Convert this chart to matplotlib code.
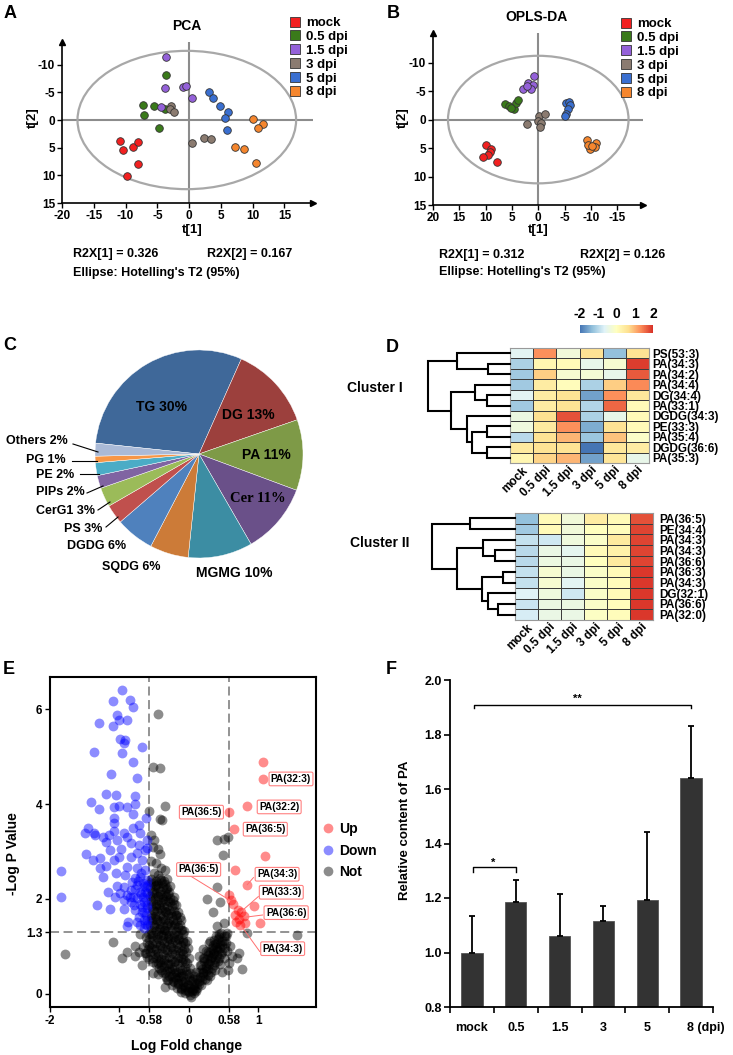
import numpy as np
import matplotlib
matplotlib.use("Agg")
import matplotlib.pyplot as plt
from matplotlib.patches import Ellipse
from matplotlib.lines import Line2D
from matplotlib.colors import LinearSegmentedColormap
from matplotlib.transforms import ScaledTranslation

plt.rcParams['font.family'] = ['Liberation Sans', 'DejaVu Sans']
plt.rcParams['font.weight'] = 'bold'
plt.rcParams['axes.labelweight'] = 'bold'
plt.rcParams['axes.unicode_minus'] = False

W, H = 733, 1055

# ---------------- data ----------------
GROUPS = ["mock", "0.5 dpi", "1.5 dpi", "3 dpi", "5 dpi", "8 dpi"]
GCOLORS = ["#F22020", "#3A7A1A", "#9461D9", "#8B7B70", "#3A6FD0", "#F5862E"]

PCA_T1 = [[-10.9, -10.4, -8.75, -8.0, -8.0, -9.7],
          [-3.65, -7.2, -5.6, -7.1, -4.7, -3.75],
          [-3.6, -3.8, -0.9, -0.5, 0.5, -4.4],
          [-2.9, -3.0, -2.45, 0.5, 2.35, 3.5],
          [3.2, 3.7, 4.9, 6.1, 5.7, 6.0],
          [10.0, 11.6, 10.8, 7.3, 8.6, 10.6]]
PCA_T2 = [[3.75, 5.4, 4.9, 3.9, 7.9, 10.1],
          [-8.2, -2.7, -2.5, -0.9, 1.4, -2.0],
          [-11.4, -5.7, -6.0, -6.1, -3.9, -2.3],
          [-2.6, -2.0, -1.4, 4.2, 3.2, 3.4],
          [-5.0, -4.0, -2.6, -1.5, -0.4, 1.8],
          [-0.2, 0.8, 1.5, 4.9, 5.2, 7.7]]

OPLS_T1 = [[9.9, 9.0, 9.15, 9.6, 10.5, 7.9],
           [6.3, 5.5, 4.6, 4.3, 3.85, 5.2],
           [0.8, 1.9, 0.95, 2.85, 1.4, 2.2],
           [-0.1, 0.05, -1.3, -0.55, 2.2, -0.4],
           [-5.2, -5.9, -6.1, -5.7, -5.3, -5.0],
           [-9.3, -10.9, -10.85, -9.8, -9.5, -10.2]]
OPLS_T2 = [[4.4, 5.1, 5.7, 6.3, 6.6, 7.5],
           [-2.7, -2.35, -1.8, -2.9, -3.5, -2.1],
           [-7.6, -6.4, -6.0, -5.4, -5.3, -5.9],
           [-0.6, 0.2, -1.0, 0.6, 0.8, 1.35],
           [-2.9, -3.0, -2.5, -1.9, -1.06, -0.7],
           [3.6, 4.1, 4.8, 5.1, 4.5, 4.6]]

PIE_LABELS = ["TG", "DG", "PA", "Cer", "MGMG", "SQDG", "DGDG", "PS", "CerG1",
              "PIPs", "PE", "PG", "Others"]
PIE_VALUES = [30, 13, 11, 11, 10, 6, 6, 3, 3, 2, 2, 1, 2]
PIE_COLORS = ["#3F6899", "#9C403D", "#7E9A47", "#6A5089", "#3C8DA3", "#CC7B38",
              "#4F81BD", "#C0504D", "#9BBB59", "#8064A2", "#4BACC6", "#F79646",
              "#AABAD7"]

HM_COLS = ["mock", "0.5 dpi", "1.5 dpi", "3 dpi", "5 dpi", "8 dpi"]
C1_ROWS = ["PS(53:3)", "PA(34:3)", "PA(34:2)", "PA(34:4)", "DG(34:4)", "PA(33:1)",
           "DGDG(34:3)", "PE(33:3)", "PA(35:4)", "DGDG(36:6)", "PA(35:3)"]
C1_VALS = [[-0.6, 1.3, -0.3, 0.6, -1.3, 0.6],
           [-1.1, 0.2, 0.1, -0.5, -0.2, 1.9],
           [-1.2, 0.8, -0.2, -0.25, -0.5, 1.7],
           [-1.2, 0.4, 0.05, -1.1, 0.8, 1.35],
           [-0.6, 0.4, 0.6, -1.6, 1.3, 0.5],
           [-1.2, 0.4, 0.6, -1.05, 1.6, 0.1],
           [-0.4, 0.65, 1.75, -1.1, -0.5, 0.1],
           [-0.35, 0.45, 1.3, -1.5, 0.6, 0.1],
           [-1.0, 0.6, 1.0, -1.25, 0.9, -0.1],
           [0.45, 0.6, 0.6, -2.0, 0.5, 0.4],
           [0.2, 0.75, 1.0, -1.6, 0.55, -0.5]]
C2_ROWS = ["PA(36:5)", "PE(34:4)", "PA(34:3)", "PA(34:3)", "PA(36:6)", "PA(36:3)",
           "PA(34:3)", "DG(32:1)", "PA(36:6)", "PA(32:0)"]
C2_VALS = [[-1.3, 0.1, -0.3, 0.4, 0.1, 1.75],
           [-1.2, 0.1, -0.3, 0.0, 0.05, 1.85],
           [-0.9, -0.8, -0.35, -0.1, 0.45, 1.85],
           [-1.0, -0.45, -0.55, 0.1, 0.3, 1.85],
           [-1.0, -0.4, -0.45, 0.0, 0.45, 1.85],
           [-0.9, -0.2, -0.45, -0.1, 0.1, 1.95],
           [-0.9, -0.2, -0.6, -0.1, 0.05, 1.95],
           [-0.65, -0.35, -0.8, -0.1, 0.1, 1.95],
           [-0.85, -0.4, -0.4, -0.1, 0.05, 1.95],
           [-0.75, -0.45, -0.45, -0.05, 0.05, 1.95]]
# dendrograms: (height, left, right), leaves = row index
C1_TREE = (82, (53, 0, (22, 1, 2)),
           (59, (35, 3, (23, 4, 5)), (43, 6, (38, (23, 7, 8), (23, 9, 10)))))
C2_TREE = (83, (45, 0, 1),
           (58, (32, 2, (20, 3, 4)), (33, (12, 5, 6), (27, 7, (17, 8, 9)))))

UP = [(1.07, 4.88), (1.07, 4.53), (0.84, 3.96), (0.58, 3.83), (0.65, 3.47), (1.10, 2.91),
      (0.66, 2.62), (0.83, 2.29), (0.58, 2.08), (0.61, 1.98), (0.70, 1.77), (0.67, 1.66),
      (0.75, 1.72), (0.80, 1.63), (0.94, 1.86), (1.03, 1.50), (0.68, 1.52), (0.73, 1.45),
      (0.81, 1.49), (0.64, 1.90), (0.72, 1.58)]
DOWN = [(-0.96, 6.41), (-1.10, 6.18), (-0.85, 6.19), (-0.81, 6.05), (-1.29, 5.72), (-1.04, 5.87),
        (-1.00, 5.77), (-0.89, 5.77), (-1.09, 5.64), (-0.99, 5.38), (-0.92, 5.36), (-0.93, 5.29),
        (-1.36, 5.10), (-0.96, 5.07), (-0.68, 5.21), (-0.81, 4.89), (-1.12, 4.63), (-0.75, 4.55),
        (-1.19, 4.21), (-1.05, 4.19), (-0.77, 4.17), (-1.41, 4.04), (-1.30, 3.89), (-1.08, 3.94),
        (-1.00, 3.96), (-0.89, 3.93), (-0.78, 4.00), (-0.81, 3.80), (-1.08, 3.70), (-1.08, 3.61),
        (-1.50, 3.38), (-1.45, 3.49), (-1.37, 3.40), (-1.35, 3.35), (-1.24, 3.30), (-1.20, 3.21),
        (-1.08, 3.44), (-0.94, 3.38), (-0.89, 3.31), (-0.81, 3.49), (-0.84, 3.17), (-1.04, 3.24),
        (-0.70, 3.38), (-0.60, 3.07), (-0.60, 3.24), (-1.48, 2.95), (-1.38, 2.82), (-1.28, 2.86),
        (-1.28, 2.65), (-1.13, 3.03), (-1.08, 2.82), (-1.01, 2.89), (-0.84, 2.89), (-0.75, 2.96),
        (-1.24, 2.46), (-1.05, 2.55), (-0.92, 2.51), (-0.89, 2.68), (-0.75, 2.65), (-0.70, 2.47),
        (-0.63, 2.61), (-0.60, 2.40), (-0.82, 2.36), (-1.04, 2.27), (-0.94, 2.25), (-0.84, 2.19),
        (-0.75, 2.29), (-0.65, 2.27), (-1.16, 2.14), (-1.06, 2.05), (-0.99, 2.12), (-0.89, 2.08),
        (-0.80, 2.05), (-0.70, 2.15), (-0.60, 2.12), (-0.94, 1.98), (-0.84, 1.94), (-0.75, 2.01),
        (-0.65, 1.94), (-1.33, 1.87), (-1.13, 1.79), (-0.94, 1.78), (-0.77, 1.77), (-0.68, 1.73),
        (-0.60, 1.80), (-0.87, 1.52), (-0.75, 1.52), (-0.65, 1.56), (-0.60, 1.45), (-0.89, 1.42),
        (-0.65, 1.38), (-1.84, 2.58), (-1.84, 2.04), (-0.68, 2.82), (-0.72, 3.14), (-0.63, 3.03),
        (-0.62, 1.65), (-0.70, 1.90), (-0.66, 2.05), (-0.78, 2.20), (-0.62, 2.25), (-0.73, 2.38),
        (-1.20, 2.70), (-1.15, 3.35), (-0.98, 3.05), (-0.72, 3.55), (-0.62, 3.70),
        (-0.61, 1.55), (-0.64, 1.72), (-0.61, 1.88), (-0.67, 1.83), (-0.62, 2.00), (-0.69, 2.10),
        (-0.63, 2.15), (-0.66, 2.33), (-0.61, 2.30), (-0.69, 2.55), (-0.72, 1.62), (-0.79, 1.87),
        (-0.71, 1.45), (-0.63, 1.48), (-0.77, 2.45), (-0.85, 2.05)]
NOT = [(-0.44, 5.90), (-0.51, 4.79), (-0.41, 4.77), (-0.57, 3.86), (-0.35, 3.96), (-0.39, 3.66),
       (-0.41, 3.68), (0.49, 2.93), (0.41, 3.24), (0.50, 3.26), (0.57, 3.30), (1.55, 1.23),
       (-1.79, 0.83), (-1.10, 1.10), (-0.96, 0.75), (-0.89, 0.89), (-0.77, 0.79), (-0.68, 0.61),
       (0.76, 0.52), (0.69, 0.76), (0.72, 0.86), (0.83, 1.29), (0.59, 1.00), (0.26, 1.99),
       (0.40, 2.26), (0.45, 1.94), (0.35, 1.73), (0.40, 1.42), (0.50, 1.49), (0.55, 1.28),
       (-0.52, 0.44), (-0.34, 0.15),
       (-0.55, 3.35), (-0.50, 3.25), (-0.45, 3.05), (-0.52, 3.10), (-0.42, 2.95),
       (-0.55, 2.80), (-0.48, 2.75), (-0.40, 2.65), (-0.50, 2.55), (-0.35, 2.60), (-0.45, 2.50),
       (-0.55, 2.35), (-0.47, 2.30), (-0.40, 2.40), (-0.33, 2.20), (-0.28, 2.15), (-0.50, 2.15),
       (-0.42, 2.10), (-0.55, 1.95), (-0.47, 1.90), (-0.38, 2.00), (-0.30, 1.95), (-0.22, 1.90),
       (-0.50, 1.75), (-0.42, 1.80), (-0.34, 1.75), (-0.26, 1.70), (-0.18, 1.65), (-0.55, 1.60),
       (-0.46, 1.55), (-0.38, 1.58), (-0.30, 1.50), (-0.22, 1.45), (-0.15, 1.40), (-0.50, 1.40),
       (-0.42, 1.38), (-0.34, 1.35), (-0.10, 1.35), (-0.70, 1.25), (-0.62, 1.20), (-0.54, 1.25),
       (-0.46, 1.20), (-0.38, 1.22), (-0.30, 1.18), (-0.22, 1.20), (-0.14, 1.15), (-0.08, 1.10),
       (-0.78, 1.00), (-0.66, 0.98), (-0.58, 1.02), (-0.50, 0.95), (-0.42, 1.00), (-0.34, 0.95),
       (-0.26, 0.98), (-0.18, 0.92), (-0.10, 0.90), (-0.04, 0.88), (-0.72, 0.88), (-0.62, 0.86),
       (-0.60, 0.78), (-0.52, 0.75), (-0.44, 0.80), (-0.36, 0.72), (-0.28, 0.78), (-0.20, 0.70),
       (-0.12, 0.75), (-0.05, 0.68), (-0.48, 0.62), (-0.40, 0.60), (-0.30, 0.62), (-0.40, 0.50),
       (-0.32, 0.48), (-0.25, 0.52), (-0.18, 0.45), (-0.10, 0.50), (-0.03, 0.42), (-0.28, 0.38),
       (-0.20, 0.35), (-0.12, 0.38), (-0.45, 0.42), (-0.22, 0.25), (-0.15, 0.22), (-0.08, 0.25),
       (-0.02, 0.18), (-0.12, 0.12), (-0.05, 0.08), (0.00, 0.03), (0.04, 0.06), (-0.30, 0.28),
       (0.08, 0.12), (0.12, 0.22), (0.06, 0.30), (0.16, 0.35), (0.20, 0.45), (0.10, 0.45),
       (0.24, 0.55), (0.28, 0.65), (0.16, 0.60), (0.32, 0.75), (0.22, 0.75), (0.36, 0.85),
       (0.28, 0.88), (0.40, 0.95), (0.45, 1.05), (0.34, 1.02), (0.50, 1.12), (0.42, 1.15),
       (0.54, 1.22), (0.46, 1.28), (0.30, 1.12), (0.20, 0.95), (0.14, 0.80), (0.50, 0.75),
       (0.55, 0.90), (0.58, 0.65), (0.62, 0.80), (0.45, 0.62), (0.38, 0.50), (0.30, 0.38),
       (0.48, 0.45), (0.56, 0.50), (0.18, 0.18), (0.26, 0.28), (0.10, 0.05),
       # dense V core
       (-0.54, 2.42), (-0.47, 2.38), (-0.41, 2.44), (-0.36, 2.37), (-0.31, 2.41),
       (-0.56, 2.24), (-0.49, 2.27), (-0.44, 2.22), (-0.37, 2.26), (-0.32, 2.23), (-0.27, 2.28),
       (-0.56, 2.06), (-0.51, 2.03), (-0.45, 2.07), (-0.39, 2.04), (-0.33, 2.06), (-0.27, 2.02),
       (-0.21, 2.05), (-0.55, 1.86), (-0.48, 1.84), (-0.43, 1.87), (-0.36, 1.83), (-0.31, 1.86),
       (-0.24, 1.84), (-0.19, 1.87), (-0.54, 1.66), (-0.49, 1.64), (-0.42, 1.67), (-0.37, 1.63),
       (-0.30, 1.66), (-0.25, 1.64), (-0.18, 1.67), (-0.13, 1.62), (-0.56, 1.46), (-0.50, 1.44),
       (-0.43, 1.47), (-0.38, 1.43), (-0.32, 1.46), (-0.26, 1.44), (-0.20, 1.47), (-0.13, 1.45),
       (-0.57, 1.26), (-0.52, 1.23), (-0.45, 1.27), (-0.40, 1.24), (-0.33, 1.26), (-0.28, 1.23),
       (-0.21, 1.27), (-0.16, 1.24), (-0.09, 1.26), (-0.60, 1.06), (-0.53, 1.04), (-0.48, 1.07),
       (-0.41, 1.03), (-0.36, 1.06), (-0.29, 1.04), (-0.24, 1.08), (-0.17, 1.05), (-0.12, 1.03),
       (-0.06, 1.06), (-0.63, 0.85), (-0.56, 0.87), (-0.49, 0.84), (-0.44, 0.86), (-0.37, 0.83),
       (-0.32, 0.87), (-0.25, 0.85), (-0.20, 0.83), (-0.13, 0.86), (-0.08, 0.84), (-0.52, 0.66),
       (-0.45, 0.64), (-0.41, 0.67), (-0.34, 0.65), (-0.27, 0.63), (-0.22, 0.66), (-0.15, 0.64),
       (-0.10, 0.67), (-0.03, 0.64), (-0.39, 0.46), (-0.35, 0.44), (-0.27, 0.47), (-0.22, 0.43),
       (-0.15, 0.46), (-0.11, 0.44), (-0.04, 0.47), (0.02, 0.44), (-0.31, 0.29), (-0.23, 0.27),
       (-0.19, 0.30), (-0.11, 0.28), (-0.06, 0.26), (0.01, 0.29), (0.05, 0.27), (-0.17, 0.13),
       (-0.11, 0.11), (-0.05, 0.14), (0.01, 0.12), (0.06, 0.10), (0.12, 0.13), (-0.06, 0.01),
       (0.02, -0.02), (0.07, 0.02), (0.12, 0.31), (0.19, 0.28), (0.23, 0.32), (0.15, 0.46),
       (0.21, 0.44), (0.25, 0.47), (0.32, 0.45), (0.18, 0.61), (0.25, 0.59), (0.29, 0.62),
       (0.36, 0.60), (0.21, 0.76), (0.26, 0.74), (0.33, 0.77), (0.38, 0.73), (0.44, 0.76),
       (0.24, 0.91), (0.31, 0.89), (0.35, 0.92), (0.42, 0.90), (0.48, 0.88), (0.29, 1.06),
       (0.37, 1.04), (0.41, 1.07), (0.48, 1.03), (0.39, 1.21), (0.44, 1.19), (0.51, 1.22),
       (-0.52, 2.33), (-0.45, 2.31), (-0.39, 2.34), (-0.34, 2.31), (-0.53, 2.14), (-0.47, 2.12),
       (-0.41, 2.16), (-0.35, 2.13), (-0.30, 2.10), (-0.52, 1.95), (-0.45, 1.97), (-0.40, 1.94),
       (-0.34, 1.96), (-0.27, 1.93), (-0.23, 1.97), (-0.52, 1.76), (-0.46, 1.74), (-0.39, 1.77),
       (-0.33, 1.73), (-0.28, 1.76), (-0.21, 1.75), (-0.16, 1.73), (-0.53, 1.55), (-0.47, 1.57),
       (-0.41, 1.54), (-0.35, 1.56), (-0.29, 1.53), (-0.23, 1.56), (-0.17, 1.54), (-0.11, 1.56),
       (-0.55, 1.35), (-0.48, 1.33), (-0.43, 1.36), (-0.36, 1.34), (-0.31, 1.32), (-0.24, 1.35),
       (-0.19, 1.33), (-0.12, 1.34), (-0.07, 1.32), (-0.57, 1.15), (-0.51, 1.13), (-0.44, 1.16),
       (-0.39, 1.14), (-0.32, 1.12), (-0.27, 1.15), (-0.20, 1.13), (-0.15, 1.16), (-0.09, 1.14),
       (-0.03, 1.12), (-0.59, 0.95), (-0.54, 0.97), (-0.47, 0.94), (-0.39, 0.96), (-0.31, 0.93),
       (-0.23, 0.95), (-0.15, 0.97), (-0.07, 0.94), (-0.01, 0.96), (-0.57, 0.74), (-0.48, 0.76),
       (-0.40, 0.73), (-0.33, 0.76), (-0.24, 0.74), (-0.16, 0.76), (-0.08, 0.73), (0.00, 0.75),
       (-0.43, 0.55), (-0.36, 0.57), (-0.29, 0.54), (-0.21, 0.56), (-0.13, 0.55), (-0.06, 0.57),
       (0.01, 0.54), (-0.33, 0.36), (-0.25, 0.38), (-0.16, 0.36), (-0.08, 0.37), (0.00, 0.35),
       (0.08, 0.38), (-0.24, 0.19), (-0.16, 0.20), (-0.09, 0.18), (-0.01, 0.21), (0.08, 0.19),
       (0.14, 0.20), (-0.12, 0.04), (-0.02, 0.06), (0.09, 0.08), (0.03, -0.06), (0.15, 0.26),
       (0.21, 0.37), (0.27, 0.40), (0.19, 0.52), (0.27, 0.53), (0.33, 0.55), (0.22, 0.68),
       (0.30, 0.69), (0.37, 0.67), (0.42, 0.70), (0.27, 0.82), (0.34, 0.83), (0.40, 0.81),
       (0.46, 0.84), (0.33, 0.97), (0.39, 0.99), (0.45, 0.97), (0.51, 0.96), (0.36, 1.13),
       (0.47, 1.12), (0.53, 1.08), (0.43, 1.26)]
VOLC_LABELS = [("PA(32:3)", 1.47, 4.53), ("PA(32:2)", 1.30, 3.94), ("PA(36:5)", 0.18, 3.83),
               ("PA(36:5)", 1.10, 3.47), ("PA(36:5)", 0.14, 2.62), ("PA(34:3)", 1.27, 2.52),
               ("PA(33:3)", 1.33, 2.14), ("PA(36:6)", 1.40, 1.71), ("PA(34:3)", 1.35, 0.95)]
VOLC_LEADERS = [((-0.03, 0.58), (2.53, 1.98)), ((0.93, 0.84), (2.45, 2.30)),
                ((1.00, 0.75), (2.05, 1.73)), ((1.06, 0.79), (1.66, 1.61)),
                ((1.02, 0.75), (0.89, 1.44))]

F_CATS = ["mock", "0.5", "1.5", "3", "5", "8 (dpi)"]
F_VALS = [1.00, 1.187, 1.059, 1.117, 1.194, 1.64]
F_ERRS = [0.133, 0.079, 0.157, 0.055, 0.25, 0.19]


def box(l, t, r, b):
    return [l / W, 1 - b / H, (r - l) / W, (b - t) / H]


fig = plt.figure(figsize=(W / 100, H / 100), dpi=100)


def center_labels(ax, lab_x, lab_y):
    ax.xaxis.set_label_coords(*lab_x)
    ax.yaxis.set_label_coords(*lab_y)
    ax.xaxis.label.set_va("center")
    ax.yaxis.label.set_va("center")


# ---------------- A / B score plots ----------------
def score_plot(rect, t1, t2, xlim, ylim, ell, xticks, xticklabels, tpos, lab_x, lab_y):
    ax = fig.add_axes(rect)
    ax.axhline(0, color="#8c8c8c", lw=1.5, zorder=1)
    ax.axvline(0, color="#8c8c8c", lw=1.5, zorder=1)
    ax.add_patch(Ellipse(ell[0], ell[1], ell[2], fill=False, ec="#a8a8a8", lw=1.6, zorder=1))
    for xs, ys, c in zip(t1, t2, GCOLORS):
        ax.scatter(xs, ys, s=30, c=c, edgecolors="#333333", linewidths=0.6, zorder=3)
    ax.set_xlim(*xlim)
    ax.set_ylim(*ylim)
    for s in ("top", "right"):
        ax.spines[s].set_visible(False)
    for s in ("left", "bottom"):
        ax.spines[s].set_linewidth(1.2)
    ax.plot(0, 1, "^", ms=5, color="k", transform=ax.transAxes, clip_on=False)
    ax.plot(1, 0, ">", ms=5, color="k", transform=ax.transAxes, clip_on=False)
    ax.set_xticks(xticks)
    ax.set_xticklabels(xticklabels)
    ax.set_yticks([-10, -5, 0, 5, 10, 15])
    ax.tick_params(labelsize=8.5, length=3.5, width=1, pad=1.5)
    ax.set_xlabel("t[1]", fontsize=9.5)
    ax.set_ylabel("t[2]", fontsize=9.5)
    center_labels(ax, lab_x, lab_y)
    handles = [Line2D([], [], marker="s", ls="", ms=6.5, mfc=c, mec="#333333", mew=0.6)
               for c in GCOLORS]
    fig.legend(handles, GROUPS, loc="upper left", bbox_to_anchor=tpos, frameon=False,
               prop=dict(weight="bold", size=9.5), handlelength=0.8, handletextpad=0.4,
               labelspacing=0.12, borderpad=0, borderaxespad=0)
    return ax


axA = score_plot(box(62, 42, 313, 203), PCA_T1, PCA_T2, (-20, 19.5), (15, -14.1),
                 ((-0.36, 0), 34.4, 25.0), [-20, -15, -10, -5, 0, 5, 10, 15],
                 ["-20", "-15", "-10", "-5", "0", "5", "10", "15"],
                 (290 / W, 1 - 17 / H), (0.52, -0.165), (-0.116, 0.53))
axB = score_plot(box(433, 33, 643, 205), OPLS_T1, OPLS_T2, (20, -19.9), (15, -15.2),
                 ((0, 0), 34.3, 22.4), [20, 15, 10, 5, 0, -5, -10, -15],
                 ["20", "15", "10", "5", "0", "-5", "-10", "-15"],
                 (621 / W, 1 - 18 / H), (0.5, -0.145), (-0.144, 0.51))

# ---------------- C pie ----------------
axC = fig.add_axes(box(95, 350, 303, 558))
axC.pie(PIE_VALUES, colors=PIE_COLORS, startangle=174, counterclock=False, radius=1,
        wedgeprops=dict(edgecolor="white", linewidth=0.3))
axC.set_xlim(-1, 1)
axC.set_ylim(-1, 1)
axC.set_aspect("auto")

# ---------------- D heatmaps ----------------
cmap = LinearSegmentedColormap.from_list(
    "rdylbu", ["#4575B4", "#91BFDB", "#E0F3F8", "#FFFFBF", "#FEE090", "#FC8D59", "#D73027"])


def heat(rect, vals, rows, pad):
    ax = fig.add_axes(rect)
    v = np.array(vals)
    ax.pcolormesh(v, cmap=cmap, vmin=-2, vmax=2, edgecolors="#3c3c3c", linewidth=0.5)
    ax.set_ylim(len(rows), 0)
    ax.set_xlim(0, v.shape[1])
    ax.yaxis.tick_right()
    ax.set_yticks(np.arange(len(rows)) + 0.5)
    ax.set_yticklabels(rows, fontsize=8.5)
    ax.set_xticks(np.arange(v.shape[1]) + 0.5)
    ax.set_xticklabels(HM_COLS, fontsize=8.5, rotation=45, ha="right", rotation_mode="anchor")
    ax.tick_params(length=0)
    ax.tick_params(axis="y", pad=pad)
    ax.tick_params(axis="x", pad=1)
    for s in ax.spines.values():
        s.set_color("#999999")
        s.set_linewidth(0.8)
    return ax


def draw_tree(ax, node):
    if isinstance(node, int):
        return node + 0.5, 0.0
    h, a, b = node
    ya, ha_ = draw_tree(ax, a)
    yb, hb = draw_tree(ax, b)
    ax.plot([ha_, h, h, hb], [ya, ya, yb, yb], color="k", lw=1.5, clip_on=False,
            solid_joinstyle="miter")
    return (ya + yb) / 2, h


def dendro(rect, tree, n, xmax):
    ax = fig.add_axes(rect)
    draw_tree(ax, tree)
    ax.set_xlim(xmax, 0)
    ax.set_ylim(n, 0)
    ax.axis("off")


heat(box(510, 348, 649, 463), C1_VALS, C1_ROWS, 2.5)
dendro(box(427, 348, 510, 463), C1_TREE, len(C1_ROWS), 82.5)
heat(box(515, 513, 653, 620), C2_VALS, C2_ROWS, 4.5)
dendro(box(431, 513, 515, 620), C2_TREE, len(C2_ROWS), 83.5)

cax = fig.add_axes(box(580, 325, 653, 333))
sm = plt.cm.ScalarMappable(cmap=cmap, norm=plt.Normalize(-2, 2))
cb = fig.colorbar(sm, cax=cax, orientation="horizontal", ticks=[-2, -1, 0, 1, 2])
cb.outline.set_visible(False)
cax.xaxis.set_ticks_position("top")
cax.tick_params(length=0, labelsize=10, pad=3)

# ---------------- E volcano ----------------
axE = fig.add_axes(box(50, 677, 316, 1007))
nx, ny = np.array(NOT).T
dx, dy = np.array(DOWN).T
ux, uy = np.array(UP).T
axE.scatter(nx, ny, s=50, c="black", alpha=0.45, linewidths=0, zorder=2)
axE.scatter(dx, dy, s=50, c="blue", alpha=0.45, linewidths=0, zorder=2)
axE.scatter(ux, uy, s=50, c="red", alpha=0.45, linewidths=0, zorder=2)
for xv in (-0.58, 0.58):
    axE.axvline(xv, color="#8a8a8a", lw=1.3, ls=(0, (5, 2.5)), zorder=1)
axE.axhline(1.3, color="#8a8a8a", lw=1.3, ls=(0, (5, 2.5)), zorder=1)
for (x0, x1), (y0, y1) in VOLC_LEADERS:
    axE.plot([x0, x1], [y0, y1], color="#FF6F6F", lw=0.7, zorder=3)
for s, xv, yv in VOLC_LABELS:
    axE.text(xv, yv, s, ha="center", va="center", fontsize=7.3, zorder=4,
             bbox=dict(boxstyle="round,pad=0.18,rounding_size=0.15", fc="white",
                       ec="#FF8080", lw=0.8))
axE.set_xlim(-1.99, 1.83)
axE.set_ylim(-0.28, 6.68)
axE.set_xticks([-2, -1, -0.58, 0, 0.58, 1])
axE.set_xticklabels(["-2", "-1", "-0.58", "0", "0.58", "1"])
axE.set_yticks([0, 1.3, 2, 4, 6])
axE.set_yticklabels(["0", "1.3", "2", "4", "6"])
axE.tick_params(labelsize=8.5, length=3.5, width=1, pad=2)
for s in axE.spines.values():
    s.set_linewidth(1.5)
axE.set_xlabel("Log Fold change", fontsize=10)
axE.set_ylabel("-Log P Value", fontsize=10)
center_labels(axE, (0.515, -0.118), (-0.14, 0.466))
vh = [Line2D([], [], marker="o", ls="", ms=7, mfc=c, mec="none", alpha=0.45)
      for c in ("red", "blue", "black")]
fig.legend(vh, ["Up", "Down", "Not"], loc="upper left", bbox_to_anchor=(322 / W, 1 - 822 / H),
           frameon=False, prop=dict(weight="bold", size=10), handlelength=0.8,
           handletextpad=0.4, labelspacing=0.55, borderpad=0, borderaxespad=0)

# ---------------- F bars ----------------
axF = fig.add_axes(box(450, 680, 713, 1007))
xs = np.arange(len(F_CATS))
axF.bar(xs, F_VALS, width=0.49, color="#333333", edgecolor="#555555", linewidth=0.6, zorder=2)
axF.errorbar(xs, F_VALS, yerr=[np.zeros(len(F_ERRS)), F_ERRS], fmt="none", ecolor="k",
             elinewidth=1.3, capsize=2.3, capthick=1.3, zorder=3)
axF.plot([0.05, 0.05, 5, 5], [1.897, 1.909, 1.909, 1.897], color="k", lw=1)
axF.text(2.4, 1.93, "**", ha="center", va="center", fontsize=8)
axF.plot([0.02, 0.02, 1.01, 1.01], [1.297, 1.312, 1.312, 1.297], color="k", lw=1)
axF.text(0.48, 1.33, "*", ha="center", va="center", fontsize=8)
axF.set_xlim(-0.5, 5.5)
axF.set_ylim(0.8, 2.0)
axF.set_yticks(np.arange(0.8, 2.01, 0.2))
axF.set_yticklabels([f"{v:.1f}" for v in np.arange(0.8, 2.01, 0.2)])
axF.set_xticks(xs)
axF.set_xticklabels(F_CATS)
axF.set_xticks(np.arange(-0.5, 5.6, 1), minor=True)
axF.tick_params(axis="x", which="major", length=0, pad=11, labelsize=9)
axF.tick_params(axis="x", which="minor", length=4, width=1.2)
axF.tick_params(axis="y", length=4, width=1.2, labelsize=9, pad=2)
lab = axF.get_xticklabels()[-1]
lab.set_ha("left")
lab.set_transform(lab.get_transform() + ScaledTranslation(-3 / 72, 0, fig.dpi_scale_trans))
for s in ("top", "right"):
    axF.spines[s].set_visible(False)
for s in ("left", "bottom"):
    axF.spines[s].set_linewidth(1.3)
axF.set_ylabel("Relative content of PA", fontsize=9.5)
axF.yaxis.set_label_coords(-0.171, 0.54)
axF.yaxis.label.set_va("center")

# ---------------- overlay texts ----------------
ov = fig.add_axes([0, 0, 1, 1], zorder=10)
ov.set_xlim(0, W)
ov.set_ylim(H, 0)
ov.axis("off")
for s, x, y in [("A", 10, 14), ("B", 393, 14), ("C", 10, 346), ("D", 392, 347),
                ("E", 9, 670), ("F", 391, 670)]:
    ov.text(x, y, s, fontsize=13, ha="center", va="center")
ov.text(187, 26, "PCA", fontsize=10, ha="center", va="center")
ov.text(537, 17, "OPLS-DA", fontsize=10, ha="center", va="center")
for s, x, y in [("R2X[1] = 0.326", 73, 254), ("R2X[2] = 0.167", 207, 254),
                ("Ellipse: Hotelling's T2 (95%)", 73, 273),
                ("R2X[1] = 0.312", 439, 255), ("R2X[2] = 0.126", 580, 255),
                ("Ellipse: Hotelling's T2 (95%)", 439, 272)]:
    ov.text(x, y, s, fontsize=9, ha="left", va="center")
ov.text(347, 388, "Cluster I", fontsize=10, ha="left", va="center")
ov.text(350, 543, "Cluster II", fontsize=10, ha="left", va="center")

pie_pos = [(162, 407), (248, 415), (266, 455), (258, 499), (234, 573), (131, 567), (97, 546),
           (83, 529), (65, 511), (60, 492), (55, 475), (46, 460), (37, 441)]
for lbl, v, (x, y) in zip(PIE_LABELS, PIE_VALUES, pie_pos):
    big = v >= 10
    if lbl == "Cer":
        ov.text(x, y, f"{lbl} {v}%", fontsize=10.5, ha="center", va="center",
                family="Liberation Serif")
    else:
        ov.text(x, y, f"{lbl} {v}%", fontsize=10 if big else 9, ha="center", va="center")
for (x0, y0), (x1, y1) in [((73, 444), (98, 452)), ((72, 461), (97, 461)), ((80, 474), (99, 474)),
                           ((87, 493), (103, 486)), ((98, 510), (110, 502)),
                           ((106, 527), (118, 517))]:
    ov.plot([x0, x1], [y0, y1], color="k", lw=0.8)

fig.savefig("out.png", dpi=100)
